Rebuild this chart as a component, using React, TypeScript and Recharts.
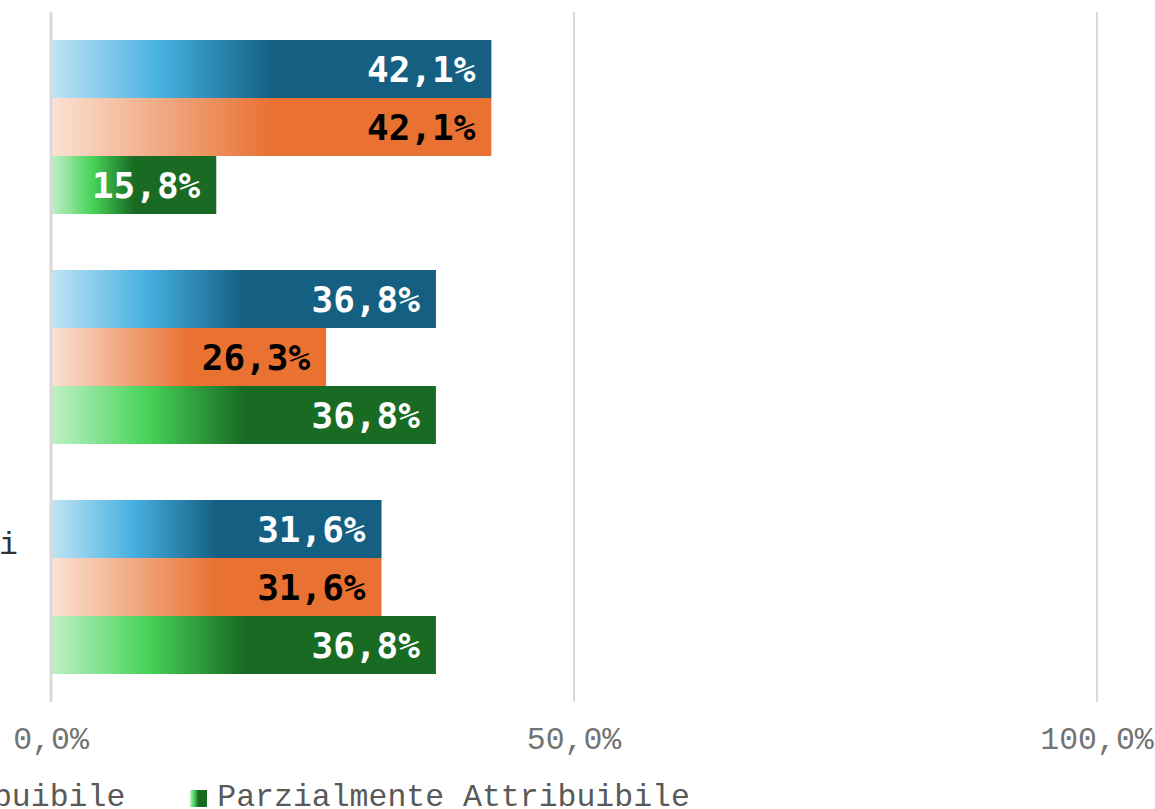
import { Bar, BarChart, CartesianGrid, LabelList, Legend, XAxis, YAxis } from "recharts";

// hidden part of the chart on the left (the reference is cropped)
const SHIFT = 600;

const categories = ["Progetto", "Esecuzione", "Fattori umani|e ambiente|esterno"];
const attribuibile = [42.1, 36.8, 31.6];
const nonAttribuibile = [42.1, 26.3, 31.6];
const parzialmente = [15.8, 36.8, 36.8];
const xTicks = [0, 50, 100];

const series = [
  { key: "a", name: "Attribuibile", values: attribuibile, stops: ["#c1e4f5", "#45b0e1", "#156082"], label: "#ffffff" },
  { key: "n", name: "Non Attribuibile", values: nonAttribuibile, stops: ["#fbe2d5", "#f1a983", "#e97132"], label: "#000000" },
  { key: "p", name: "Parzialmente Attribuibile", values: parzialmente, stops: ["#c1f0c8", "#47d459", "#196b24"], label: "#ffffff" },
];

const data = categories.map((name, i) => {
  const row: Record<string, string | number> = { name };
  series.forEach((s) => (row[s.key] = s.values[i]));
  return row;
});

const pct = (v: number) => v.toFixed(1).replace(".", ",") + "%";

const LABEL_CX = 495;

function CategoryTick(props: any) {
  const { y, payload } = props;
  const lines = String(payload.value).split("|");
  const lh = 44;
  return (
    <text
      x={LABEL_CX}
      y={y}
      textAnchor="middle"
      fill="#333"
      fontSize={31.5}
      fontFamily="'Liberation Mono', monospace"
    >
      {lines.map((l, i) => (
        <tspan key={i} x={LABEL_CX} y={y + (i - (lines.length - 1) / 2) * lh + 11}>
          {l}
        </tspan>
      ))}
    </text>
  );
}

function LegendContent() {
  return (
    <div style={{ display: "flex", height: 34, whiteSpace: "nowrap" }}>
      {series.map((s, i) => (
        <div key={s.key} style={{ display: "flex", alignItems: "flex-start", marginLeft: i ? 65 : 0 }}>
          <div
            style={{
              width: 17,
              height: 17,
              marginTop: 9,
              background: `linear-gradient(to right, ${s.stops[0]} 0%, ${s.stops[1]} 25%, ${s.stops[2]} 50%, ${s.stops[2]} 100%)`,
            }}
          />
          <span
            style={{
              marginLeft: 10,
              fontFamily: "'Liberation Mono', monospace",
              fontSize: 31.5,
              lineHeight: "34px",
              color: "#595959",
            }}
          >
            {s.name}
          </span>
        </div>
      ))}
    </div>
  );
}

export default function App() {
  return (
    <div
      style={{
        position: "absolute",
        left: 0,
        top: 0,
        width: 1155,
        height: 809,
        overflow: "hidden",
        background: "#fff",
      }}
    >
      <div style={{ position: "absolute", left: -SHIFT, top: 0 }}>
        <BarChart
          width={1155 + SHIFT}
          height={830}
          data={data}
          layout="vertical"
          margin={{ top: 12, right: 58, bottom: 0, left: 0 }}
          barCategoryGap={28}
          barGap={0}
        >
          <defs>
            {series.map((s) => (
              <linearGradient key={s.key} id={"grad-" + s.key} x1="0" y1="0" x2="1" y2="0">
                <stop offset="0%" stopColor={s.stops[0]} />
                <stop offset="25%" stopColor={s.stops[1]} />
                <stop offset="50%" stopColor={s.stops[2]} />
                <stop offset="100%" stopColor={s.stops[2]} />
              </linearGradient>
            ))}
          </defs>
          <CartesianGrid horizontal={false} stroke="#d9d9d9" strokeWidth={2} />
          <XAxis
            type="number"
            domain={[0, 100]}
            ticks={xTicks}
            interval={0}
            tickFormatter={pct}
            axisLine={false}
            tickLine={false}
            tickSize={0}
            tickMargin={25}
            height={94}
            tick={{ fill: "#737373", fontSize: 31.5, fontFamily: "'Liberation Mono', monospace" }}
          />
          <YAxis
            type="category"
            dataKey="name"
            width={SHIFT + 51}
            axisLine={{ stroke: "#d9d9d9", strokeWidth: 3 }}
            tickLine={false}
            tick={<CategoryTick />}
          />
          {series.map((s) => (
            <Bar key={s.key} dataKey={s.key} name={s.name} fill={`url(#grad-${s.key})`} isAnimationActive={false}>
              <LabelList
                dataKey={s.key}
                position="insideRight"
                offset={16}
                formatter={(v: any) => pct(Number(v))}
                fill={s.label}
                style={{
                  fontFamily: "'DejaVu Sans Mono', monospace",
                  fontWeight: "bold",
                  fontSize: 36,
                  fill: s.label,
                }}
              />
            </Bar>
          ))}
          <Legend
            content={<LegendContent />}
            verticalAlign="bottom"
            wrapperStyle={{ left: 77, top: 781, width: "auto", bottom: "auto" }}
          />
        </BarChart>
      </div>
    </div>
  );
}
